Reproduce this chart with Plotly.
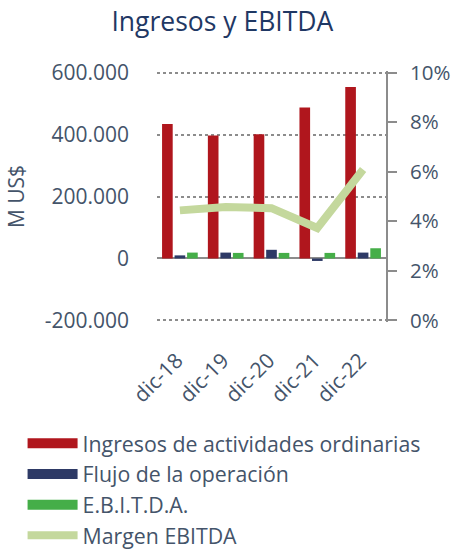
import plotly.graph_objects as go

categories = ["dic-18", "dic-19", "dic-20", "dic-21", "dic-22"]
ingresos = [434000, 397000, 401000, 487000, 553000]
flujo = [10000, 19000, 28000, -8000, 19000]
ebitda = [19000, 18000, 18000, 18000, 33000]
margen = [0.0444, 0.0458, 0.0453, 0.0373, 0.0609]

left_tickvals = [-200000, 0, 200000, 400000, 600000]
left_ticktext = ["-200.000", "0", "200.000", "400.000", "600.000"]
right_tickvals = [0, 0.02, 0.04, 0.06, 0.08, 0.10]
right_ticktext = ["0%", "2%", "4%", "6%", "8%", "10%"]

bar_names = ["Ingresos de actividades ordinarias", "Flujo de la operación", "E.B.I.T.D.A."]
bar_colors = ["#B0161D", "#2E3A66", "#45AE48"]
line_color = "#C4D89D"

text_color = "#44546A"
grid_color = "#8C8C8C"
font_family = "Open Sans, Noto Sans, sans-serif"

# small padding so edge gridlines are drawn
pad = 5000
y_lo, y_hi = -200000 - pad, 600000 + pad
span = 800000
r_lo = 0 - 0.10 * pad / span
r_hi = 0.10 + 0.10 * pad / span

fig = go.Figure()
for name, vals, col in zip(bar_names, [ingresos, flujo, ebitda], bar_colors):
    fig.add_trace(go.Bar(x=categories, y=vals, name=name, showlegend=False,
                         marker=dict(color=col, line=dict(width=0))))
# legend entries for bars (wide swatches)
for name, col in zip(bar_names, bar_colors):
    fig.add_trace(go.Scatter(x=[None], y=[None], name=name, mode="lines",
                             line=dict(color=col, width=15)))
fig.add_trace(go.Scatter(x=categories, y=margen, name="Margen EBITDA", yaxis="y2",
                         mode="lines", line=dict(color=line_color, width=8)))

fig.update_layout(
    width=451, height=550,
    margin=dict(l=157, r=65, t=71, b=228, autoexpand=False),
    paper_bgcolor="white", plot_bgcolor="white",
    font=dict(family=font_family, color=text_color, size=21),
    title=dict(text="Ingresos y EBITDA", x=0.493, xanchor="center", y=0.96, yanchor="middle",
               font=dict(size=26.5, color="#1F3864", family=font_family)),
    barmode="group", bargap=0.18, bargroupgap=0.15,
    showlegend=True,
    legend=dict(x=-0.587, y=-0.402, xanchor="left", yanchor="top",
                font=dict(size=21.3, color=text_color), tracegroupgap=0,
                itemwidth=50, bgcolor="rgba(0,0,0,0)"),
    xaxis=dict(tickangle=-45, showgrid=False, showline=False, ticks="", automargin=False,
               ticklabelstandoff=21, ticklabelshift=-3,
               tickfont=dict(size=21, color=text_color)),
    yaxis=dict(range=[y_lo, y_hi], tickvals=left_tickvals, ticktext=left_ticktext,
               showgrid=True, gridcolor=grid_color, griddash="dot", gridwidth=2,
               zeroline=True, zerolinecolor=grid_color, zerolinewidth=2,
               showline=False, ticks="", ticklabelstandoff=27, automargin=False,
               title=dict(text="M US$", standoff=14, font=dict(size=21, color=text_color)),
               tickfont=dict(size=21, color=text_color)),
    yaxis2=dict(range=[r_lo, r_hi], tickvals=right_tickvals, ticktext=right_ticktext,
                overlaying="y", side="right", showgrid=False, zeroline=False,
                showline=True, linecolor=grid_color, linewidth=2, automargin=False,
                ticks="outside", ticklen=9, tickwidth=2, tickcolor=grid_color,
                ticklabelstandoff=9,
                tickfont=dict(size=20.5, color=text_color)),
)

fig.write_html("out.html", config={"displayModeBar": False},
               post_script="document.body.style.margin='0';")
